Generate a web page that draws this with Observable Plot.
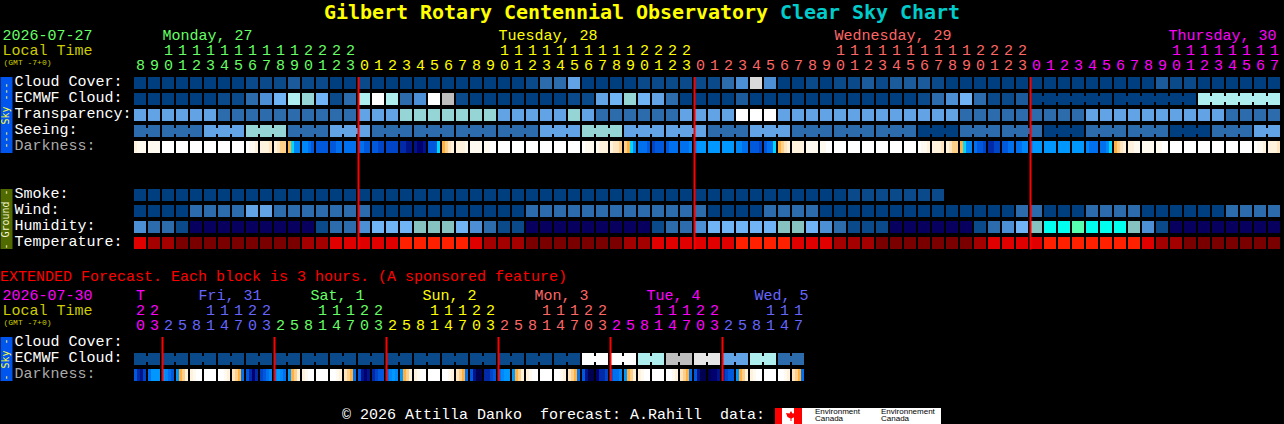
<!DOCTYPE html>
<html>
<head>
<meta charset="utf-8">
<script src="https://cdn.jsdelivr.net/npm/d3@7"></script>
<script src="https://cdn.jsdelivr.net/npm/@observablehq/plot@0.6"></script>
<style>
  html, body { margin: 0; padding: 0; background: #000; width: 1284px; height: 424px; overflow: hidden; }
  svg { display: block; }
  #title { height: 24px; text-align: center; font: bold 20px/24px "DejaVu Sans Mono", monospace; letter-spacing: -0.04px; color: #ffff00; white-space: pre; }
  #title span { color: #00cccc; }
  #ext { height: 22px; font: 15px/27px "Liberation Mono", monospace; color: #ff0000; white-space: pre; }
  #foot { position: relative; height: 20px; color: #fff; font: 15px/24px "Liberation Mono", monospace; white-space: pre; }
  #foot .txt { position: absolute; left: 342px; top: 0; }
  #logo { position: absolute; left: 775px; top: 4px; width: 166px; height: 16px; background: #fff; overflow: hidden; }
  #logo i { position: absolute; top: 0; height: 16px; background: #f00; }
  #logo b { position: absolute; left: 11px; top: 3px; width: 10px; height: 10px; background: #f00; clip-path: polygon(50% 0, 65% 25%, 100% 20%, 85% 60%, 55% 75%, 55% 100%, 45% 100%, 45% 75%, 15% 60%, 0 20%, 35% 25%); }
  #logo span { position: absolute; top: 0; font: 8px/7px "Liberation Sans", sans-serif; color: #000; white-space: pre; }
</style>
</head>
<body>
<div id="title">Gilbert Rotary Centennial Observatory <span>Clear Sky Chart</span></div>
<div id="main"></div>
<div id="ext">EXTENDED Forecast. Each block is 3 hours. (A sponsored feature)</div>
<div id="extended"></div>
<div id="foot"><div class="txt">© 2026 Attilla Danko  forecast: A.Rahill  data:</div>
  <div id="logo"><i style="left:0;width:7px"></i><i style="left:19px;width:8px"></i><b></b>
    <span style="left:40px">Environment
Canada</span><span style="left:106px">Environnement
Canada</span></div></div>
<script>
// ---------- values (level codes, see palettes below) ----------
const cloudCover = [0,0,0,0,0,0,0,0,1,1,1,2,1,1,0,0,1,0,0,0,0, 0,0,0,0,0,0,0,1,3,3,5,0,0,0,0,1,1,1,1,1,1,3,4,11,4,0,0,1,0,1,1, 2,1,2,2,2,1,0,0,0,0,0,0, 0,0,0,0,0,0,0,0,0,2,1,1,0,0,0,0,0,0];
const ecmwfCloud = [0,0,0,0,0,0,1,1,3,4,6,8,7,6,1,3,8,9,8,3,4, 9,12,1,0,0,0,0,0,0,0,1,1,5,6,7,6,5,3,0,0,0,0,2,0,0,0,0,0,0,0,0, 0,0,0,0,1,3,4,6,3,1,1,2, 0,0,0,0,0,0,0,0,0,0,0,0,8,8,8,8,8,8];
const ecmwfBlockSizes = [64,6,6,6];
const transparency = [5,5,5,5,5,5,3,3,3,3,3,3,3,3,3,3,5,5,5,7,7, 7,7,7,7,7,5,5,5,5,5,7,5,3,3,3,3,3,3,5,5,5,5,9,9,9,5,5,5,5,5,5, 5,5,5,5,5,5,5,3,3,3,3,3, 3,3,3,3,5,5,5,5,5,5,5,5,5,5,3,3,3,3];
const seeingBlocks = [3,3,5,7,3,5,3,3,3,3,5,7,5,5,3,5,3,3,3,0,3,3,0,3,3,0,3,5];
const seeingBlockSizes = [2,3,3,3,3,3,3,3,3,3,3,3,3,3,3,3,3,3,3,3,3,3,3,3,3,3,3,2];
const smoke = [0,0,0,0,0,0,0,0,0,0,0,0,0,0,0,0,0,0,0,0,0,0,0,0,0,0,0,0,0,0,0,0,0,0,0,0,0,0,0,0,0,0,0,0,0,0,0,0,0,0,0,1,1,1,1,1,1,1];
const wind = [0,0,0,0,3,3,3,3,5,5,3,3,3,3,3,3,3,0,0,0,0, 0,0,0,0,0,0,0,3,3,3,3,3,3,3,3,3,3,3,3,3,0,0,0,0,3,3,3,3,0,0,0, 0,0,0,0,0,0,0,0,0,0,0,3, 3,0,0,0,3,3,3,3,0,0,0,0,0,0,3,3,3,3];
const humidity = [4,3,3,1,13,13,13,13,13,13,13,13,13,1,3,3,4,6,6,6,14, 14,14,6,4,3,1,1,13,13,13,13,13,13,13,13,13,1,3,3,4,6,6,6,6,6,14,14,6,4,3,1, 1,1,13,13,13,13,13,13,1,3,4,6, 14,15,15,16,15,15,15,14,4,1,13,13,13,13,13,13,13,13];
const temperature = [19,18,18,17,17,17,17,17,17,17,17,17,18,18,19,19,19,19,19,20,20, 20,20,20,19,18,18,18,17,17,17,17,17,17,17,18,18,19,19,19,19,19,19,20,20,20,20,19,19,19,18,18, 18,17,17,17,17,17,17,17,18,19,19,19, 19,20,20,20,20,20,20,20,19,18,18,17,17,17,17,17,17,17];
const darkness = [[2,1,1,1],1,0,0,0,0,0,0,[0,1,1,2],[2,2,2,3],[2,3,4,4],[5,6,8,8],[8,8,9,10],10,[10,10,9,9],9,[9,9,10,10],[10,10,11,11],11,[12,12,13,13],[13,14,14,13],
  [10,10,10,6],[5,4,3,2],[2,2,2,1],1,[1,1,0,0],0,0,0,0,0,0,[0,1,1,1],[1,2,2,2],[2,3,3,4],[4,5,6,8],[9,9,9,10],[11,10,10,10],[10,9,9,9],[9,9,9,8],[8,7,7,7],7,7,[8,8,9,9],[10,10,10,11],[10,9,9,6],[5,4,3,2],2,1,[1,1,0,0],0,0,
  0,0,0,0,[0,1,1,2],[2,2,2,3],[2,3,4,4],[5,6,8,8],[9,10,10,11],[12,12,11,11],[10,10,9,9],[9,9,8,8],[8,7,7,7],7,7,7,[8,9,9,9],[9,9,8,6],[5,4,3,2],[2,2,1,1],1,[1,1,0,0],0,0,0,0,0,0,[0,1,1,2],[2,2,2,3]];
const hours = [8,9,10,11,12,13,14,15,16,17,18,19,20,21,22,23, 0,1,2,3,4,5,6,7,8,9,10,11,12,13,14,15,16,17,18,19,20,21,22,23, 0,1,2,3,4,5,6,7,8,9,10,11,12,13,14,15,16,17,18,19,20,21,22,23, 0,1,2,3,4,5,6,7,8,9,10,11,12,13,14,15,16,17];
const dayStarts = [0,16,40,64];
const dayColors = ["#66ff66","#ffff00","#ff6666","#ff00ff"];
const dayLabels = ["Monday, 27","Tuesday, 28","Wednesday, 29","Thursday, 30"];
const dayLabelCols = [2,26,50,73.86];
const midnightCols = [16,40,64];

const extHours = [20,23, 2,5,8,11,14,17,20,23, 2,5,8,11,14,17,20,23, 2,5,8,11,14,17,20,23, 2,5,8,11,14,17,20,23, 2,5,8,11,14,17,20,23, 2,5,8,11,14,17];
const extDayStarts = [0,2,10,18,26,34,42];
const extDayColors = ["#ff00ff","#6666ff","#66ff66","#ffff00","#ff6666","#ff00ff","#6666ff"];
const extDayLabels = ["T","Fri, 31","Sat, 1","Sun, 2","Mon, 3","Tue, 4","Wed, 5"];
const extDayLabelCols = [0.1,4.57,12.57,20.57,28.57,36.57,44.28];
const extMidnightCols = [2,10,18,26,34,42];
const extEcmwfPairs = [1,1,1,1,1,1,1,1,1,1,1,1,1,1,1,1,9,9,8,12,10,5,8,3];
const extDarkness = [
  [10,12,13,11],[9,7,7,7],[7,8,9,10],[7,5,4,2],[2,1,0,0],0,[0,0,1,2],[3,4,5,9],
  [10,12,14,12],[11,10,9,8],[8,7,8,9],[7,5,4,2],[2,1,0,0],0,[0,0,1,2],[3,4,5,9],
  [10,13,14,13],[12,11,10,10],[9,8,7,8],[7,5,4,2],[2,1,0,0],0,[0,0,1,2],[3,4,5,9],
  [10,13,15,15],[12,12,11,10],[9,8,7,7],[7,5,4,2],[2,1,0,0],0,[0,0,1,2],[3,4,5,9],
  [10,13,15,15],[14,12,12,11],[10,9,9,8],[7,5,4,2],[2,1,0,0],0,[0,0,1,2],[3,4,5,9],
  [10,13,15,15],[15,14,14,13],[12,11,10,10],[7,5,4,2],[2,1,0,0],0,[0,0,1,2],[3,4,5,9]];

// ---------- palettes ----------
const palette = ["#003f7f","#0b4a8a","#1b5b9b","#2c6cac","#4d8fd5","#62a3e5","#70b4f5","#95d5d5","#afeeee","#ffffff","#e6e6e6","#d9d9d9","#bebebe","#08005f","#85c2c0","#00ffee","#55ffaf","#7a0000","#a50000","#e00000","#ff2000"];
const darkPalette = ["#ffffff","#fffaf0","#fff3de","#ffe6c0","#ffd08a","#ffb040","#00d8ff","#0098ff","#0088f8","#0070ee","#0058dc","#0044c8","#002aa8","#001488","#000070","#000050"];

// ---------- layout ----------
const CELL = 12 / 14;                 // block width as a share of one column
const font = '"Liberation Mono", monospace';
const sideFont = '"DejaVu Sans Mono", monospace';
const colOf = px => (px - 134) / 14;  // page pixel -> column units for the margin furniture
const centre = 6 / 14;

const cells = (values, row) => values.map((v, col) => ({col, row, fill: palette[v]}));
const expand = (vals, sizes) => vals.flatMap((v, i) => Array(sizes[i]).fill(v));
const strips = (values, row) => values.flatMap((v, col) => {
  const parts = Array.isArray(v) ? v : [v];
  return parts.map((p, k) => ({x1: col + CELL * k / parts.length, x2: col + CELL * (k + 1) / parts.length, row, fill: darkPalette[p]}));
});
// narrow bridges joining the blocks of one forecast period
function bridges(values, sizes, row, skipFirst) {
  const out = []; let col = 0;
  sizes.forEach((n, b) => {
    for (let k = 0; k < n - 1; k++) {
      if (!(skipFirst && b === 0)) out.push({col: col + k, row, fill: palette[values[col + k]]});
    }
    col += n;
  });
  return out;
}
const tens = h => h >= 10 ? String(h)[0] : null;
const colorAt = (col, starts, colors) => colors[d3.bisectRight(starts, col) - 1];

function panel({height, columns, yRange, rowCount, hoursList, starts, colors, dayText, dayCols, rows, stripRows, bridgeRows, ruleCols, ruleRows, labels, sideBars, sideTexts, head}) {
  const tick = hoursList.map((h, col) => ({col, h, color: colorAt(col, starts, colors)}));
  const days = dayText.map((text, i) => ({text, x: dayCols[i], fill: colors[i]}));
  return Plot.plot({
    width: 1284, height, margin: 0,
    style: {background: "#000", fontFamily: font},
    x: {domain: [0, columns], range: [134, 134 + columns * 14], axis: null},
    y: {domain: [0, rowCount], range: yRange, axis: null},
    color: {type: "identity"},
    marks: [
      Plot.rect(rows.flat(), {x1: "col", x2: d => d.col + CELL, y1: "row", y2: d => d.row + 0.75, fill: "fill"}),
      Plot.rect(bridgeRows.flat(), {x1: d => d.col + CELL, x2: d => d.col + 1, y1: d => d.row + 3 / 16, y2: d => d.row + 9 / 16, fill: "fill"}),
      Plot.rect(stripRows.flat(), {x1: "x1", x2: "x2", y1: "row", y2: d => d.row + 0.75, fill: "fill"}),
      Plot.ruleX(ruleCols, {y1: ruleRows[0], y2: ruleRows[1], stroke: "#ff0000", strokeWidth: 2}),
      Plot.ruleX(sideBars, {x: colOf(6), y1: d => d.from + 6 / 16, y2: d => d.to + 6 / 16, stroke: "fill", strokeWidth: 12, strokeLinecap: "square"}),
      Plot.text(sideTexts, {x: colOf(5.5), y: "y", text: "text", fill: "fill", rotate: -90, fontSize: 10, fontFamily: sideFont}),
      Plot.text(labels, {x: colOf(14), y: d => d.row + 4 / 16, text: "text", fill: "fill", textAnchor: "start", fontSize: 15, fontFamily: font}),
      Plot.text(days, {x: "x", y: 6 / 16, text: "text", fill: "fill", textAnchor: "start", fontSize: 15, fontFamily: font}),
      Plot.text(tick.filter(d => tens(d.h)), {x: d => d.col + centre, y: 1 + 5 / 16, text: d => tens(d.h), fill: "color", fontSize: 15, fontFamily: font}),
      Plot.text(tick, {x: d => d.col + centre, y: 2 + 4 / 16, text: d => String(d.h % 10), fill: "color", fontSize: 15, fontFamily: font}),
      Plot.text(head, {x: "x", y: "y", text: "text", fill: "fill", textAnchor: "start", fontSize: "size", fontFamily: font})
    ]
  });
}

// ---------- main chart ----------
const seeing = expand(seeingBlocks, seeingBlockSizes);
const ROW = {cloud: 3, ecmwf: 4, transp: 5, seeing: 6, dark: 7, smoke: 10, wind: 11, humid: 12, temp: 13};
const white = "#ffffff";
document.getElementById("main").append(panel({
  height: 240, columns: 82, yRange: [5, 229], rowCount: 14,
  hoursList: hours, starts: dayStarts, colors: dayColors, dayText: dayLabels, dayCols: dayLabelCols,
  rows: [cells(cloudCover, ROW.cloud), cells(ecmwfCloud, ROW.ecmwf), cells(transparency, ROW.transp), cells(seeing, ROW.seeing),
         cells(smoke, ROW.smoke), cells(wind, ROW.wind), cells(humidity, ROW.humid), cells(temperature, ROW.temp)],
  stripRows: [strips(darkness, ROW.dark)],
  bridgeRows: [bridges(seeing, seeingBlockSizes, ROW.seeing, false), bridges(ecmwfCloud, ecmwfBlockSizes, ROW.ecmwf, true)],
  ruleCols: midnightCols, ruleRows: [ROW.cloud, 13.78],
  labels: [["Cloud Cover:",ROW.cloud,white],["ECMWF Cloud:",ROW.ecmwf,white],["Transparency:",ROW.transp,white],["Seeing:",ROW.seeing,white],["Darkness:",ROW.dark,"#aaaaaa"],
           ["Smoke:",ROW.smoke,white],["Wind:",ROW.wind,white],["Humidity:",ROW.humid,white],["Temperature:",ROW.temp,white]].map(([text,row,fill]) => ({text,row,fill})),
  sideBars: [{from: ROW.cloud, to: ROW.dark, fill: "#0055ee"}, {from: ROW.smoke, to: ROW.temp, fill: "#506a00"}],
  sideTexts: [{text: "--- Sky ---", y: ROW.cloud + 2.375, fill: "#ffff33"}, {text: "- Ground -", y: ROW.smoke + 1.875, fill: "#f4f4d0"}],
  head: [{text: "2026-07-27", x: colOf(2), y: 6 / 16, fill: "#66ff66", size: 15},
         {text: "Local Time", x: colOf(2), y: 1 + 5 / 16, fill: "#cccc00", size: 15},
         {text: "(GMT -7+0)", x: colOf(3), y: 2 + 1 / 16, fill: "#cccc00", size: 8}]
}));

// ---------- extended chart ----------
document.getElementById("extended").append(panel({
  height: 118, columns: 48, yRange: [3, 99], rowCount: 6,
  hoursList: extHours, starts: extDayStarts, colors: extDayColors, dayText: extDayLabels, dayCols: extDayLabelCols,
  rows: [cells(expand(extEcmwfPairs, extEcmwfPairs.map(() => 2)), 4)],
  stripRows: [strips(extDarkness, 5)],
  bridgeRows: [bridges(expand(extEcmwfPairs, extEcmwfPairs.map(() => 2)), extEcmwfPairs.map(() => 2), 4, false)],
  ruleCols: extMidnightCols, ruleRows: [3, 5.75],
  labels: [["Cloud Cover:",3,white],["ECMWF Cloud:",4,white],["Darkness:",5,"#aaaaaa"]].map(([text,row,fill]) => ({text,row,fill})),
  sideBars: [{from: 3, to: 5, fill: "#0055ee"}],
  sideTexts: [{text: "- Sky -", y: 4.375, fill: "#ffff33"}],
  head: [{text: "2026-07-30", x: colOf(2), y: 6 / 16, fill: "#ff00ff", size: 15},
         {text: "Local Time", x: colOf(2), y: 1 + 5 / 16, fill: "#cccc00", size: 15},
         {text: "(GMT -7+0)", x: colOf(3), y: 2 + 1 / 16, fill: "#cccc00", size: 8}]
}));
</script>
</body>
</html>
